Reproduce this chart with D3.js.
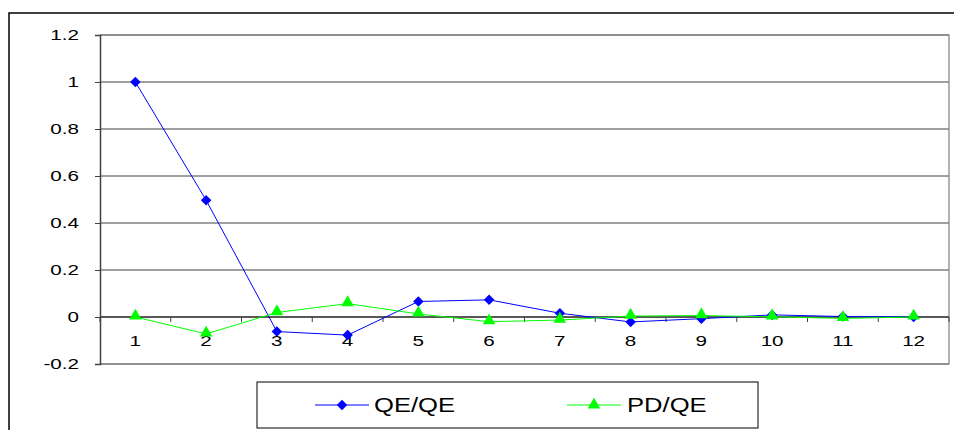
<!DOCTYPE html>
<html><head><meta charset="utf-8">
<script src="https://cdn.jsdelivr.net/npm/d3@7"></script>
<style>body{margin:0;background:#fff}svg{display:block}</style>
</head><body>
<script>
const categories = ["1","2","3","4","5","6","7","8","9","10","11","12"];
const qeqe = [1.0, 0.497, -0.062, -0.077, 0.066, 0.073, 0.016, -0.021, -0.007, 0.009, 0.002, 0.0];
const pdqe = [0.0, -0.072, 0.019, 0.057, 0.013, -0.02, -0.013, 0.004, 0.006, 0.001, -0.006, 0.0];
const yTicks = [-0.2, 0, 0.2, 0.4, 0.6, 0.8, 1, 1.2];
const seriesNames = ["QE/QE", "PD/QE"];

const W = 954, H = 430;
const SX = 1.33; // horizontal stretch of text seen in the reference
const svg = d3.select("body").append("svg").attr("width", W).attr("height", H);
const font = "Liberation Sans, Arial, sans-serif";

function stretch(sel, k) {
  sel.each(function () {
    const w = this.getComputedTextLength();
    d3.select(this).attr("textLength", w * k).attr("lengthAdjust", "spacingAndGlyphs");
  });
}

// outer chart frame
svg.append("rect").attr("x", 9).attr("y", 13).attr("width", 960).attr("height", 440)
  .attr("fill", "#fff").attr("stroke", "#000").attr("stroke-width", 1.5);

const L = 100, R = 949, T = 35, B = 364;
const x = d3.scaleBand().domain(categories).range([L, R]);
const y = d3.scaleLinear().domain([-0.2, 1.2]).range([B, T]);

// gridlines
svg.append("g").selectAll("line").data(yTicks).join("line")
  .attr("x1", L).attr("x2", R).attr("y1", d => y(d)).attr("y2", d => y(d))
  .attr("stroke", "#404040").attr("stroke-width", 1);

// plot border (top, right, bottom)
svg.append("path").attr("d", `M${L},${T}H${R}V${B}H${L}`).attr("fill", "none")
  .attr("stroke", "#808080").attr("stroke-width", 1.2);

// y axis
const yAxis = svg.append("g").attr("transform", `translate(${L},0)`)
  .call(d3.axisLeft(y).tickValues(yTicks).tickSize(5).tickPadding(16).tickFormat(d => String(+d.toFixed(1))));
yAxis.attr("font-family", font).attr("font-size", 15.5);
yAxis.select(".domain").attr("stroke", "#404040").attr("stroke-width", 1.5);
yAxis.selectAll(".tick line").attr("stroke", "#404040");
yAxis.selectAll("text").attr("fill", "#000").call(stretch, SX);

// x axis at zero
const y0 = y(0);
svg.append("line").attr("x1", L).attr("x2", R).attr("y1", y0).attr("y2", y0)
  .attr("stroke", "#404040").attr("stroke-width", 1.5);
const bounds = categories.map(c => x(c)).concat([R]);
svg.append("g").selectAll("line").data(bounds).join("line")
  .attr("x1", d => d).attr("x2", d => d).attr("y1", y0).attr("y2", y0 + 5)
  .attr("stroke", "#404040");
svg.append("g").attr("font-family", font).attr("font-size", 15.5)
  .selectAll("text").data(categories).join("text")
  .attr("x", d => x(d) + x.bandwidth() / 2).attr("y", y0 + 29)
  .attr("text-anchor", "middle")
  .text(d => d).call(stretch, SX);

const cx = (d, i) => x(categories[i]) + x.bandwidth() / 2;
const line = d3.line().x((d, i) => cx(d, i)).y(d => y(d));
const diamond = d3.symbol().type(d3.symbolDiamond2).size(70);
const tri = d3.symbol().type(d3.symbolTriangle).size(68);

// QE/QE
svg.append("path").datum(qeqe).attr("d", line).attr("fill", "none").attr("stroke", "#0000ff").attr("stroke-width", 1);
svg.append("g").selectAll("path").data(qeqe).join("path")
  .attr("transform", (d, i) => `translate(${cx(d, i)},${y(d)})`).attr("d", diamond).attr("fill", "#0000ff");
// PD/QE
svg.append("path").datum(pdqe).attr("d", line).attr("fill", "none").attr("stroke", "#00ff00").attr("stroke-width", 1);
svg.append("g").selectAll("path").data(pdqe).join("path")
  .attr("transform", (d, i) => `translate(${cx(d, i)},${y(d) - 1})`).attr("d", tri).attr("fill", "#00ff00");

// legend
svg.append("rect").attr("x", 257).attr("y", 382).attr("width", 501).attr("height", 46)
  .attr("fill", "#fff").attr("stroke", "#000").attr("stroke-width", 1);
const leg = [
  {name: seriesNames[0], color: "#0000ff", sym: diamond, x1: 315, tx: 374},
  {name: seriesNames[1], color: "#00ff00", sym: tri, x1: 567, tx: 627}
];
leg.forEach(l => {
  svg.append("line").attr("x1", l.x1).attr("x2", l.x1 + 54).attr("y1", 405).attr("y2", 405)
    .attr("stroke", l.color).attr("stroke-width", 1);
  svg.append("path").attr("transform", `translate(${l.x1 + 27},405)`).attr("d", l.sym).attr("fill", l.color);
  svg.append("text").attr("x", l.tx).attr("y", 412)
    .attr("font-family", font).attr("font-size", 20)
    .text(l.name).call(stretch, 1.28);
});
</script>
</body></html>
